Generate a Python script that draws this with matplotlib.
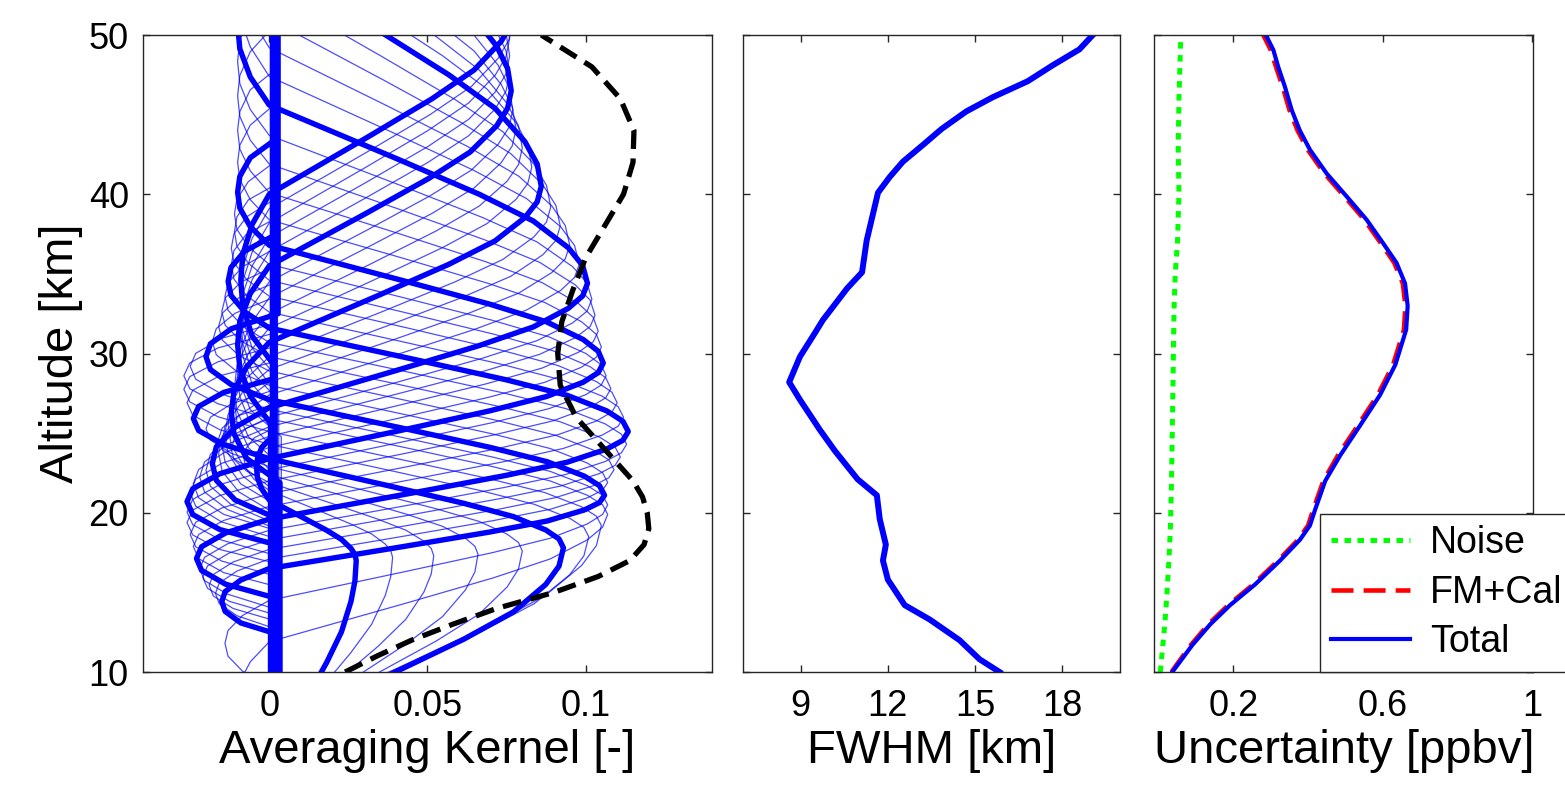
import numpy as np
import matplotlib
matplotlib.use("Agg")
import matplotlib.pyplot as plt

plt.rcParams['font.family'] = ['Liberation Sans', 'DejaVu Sans']

# ---- averaging kernels: one row per nominal level 10..50 km ----
k_nominal = list(range(10, 51))
k_peak_alt = [17.0, 17.2, 17.3, 17.4, 17.6, 17.8, 18.5, 19.2, 19.9, 20.5,
              21.1, 21.9, 22.7, 23.5, 24.3, 25.1, 26.0, 26.9, 27.8, 28.6,
              29.4, 30.4, 31.4, 32.4, 33.4, 34.4, 35.6, 36.8, 38.0, 39.2,
              40.5, 41.7, 42.9, 44.1, 45.3, 46.5, 47.6, 48.7, 49.8, 50.9, 52.0]
k_peak_val = [0.0275, 0.039, 0.052, 0.066, 0.080, 0.093, 0.101, 0.105, 0.107, 0.107,
              0.106, 0.107, 0.109, 0.111, 0.113, 0.1135, 0.112, 0.110, 0.108, 0.1065,
              0.1056, 0.105, 0.104, 0.103, 0.102, 0.1006, 0.098, 0.095, 0.092, 0.089,
              0.086, 0.083, 0.080, 0.078, 0.077, 0.0765, 0.076, 0.076, 0.076, 0.077, 0.078]
# distance (km) from peak to lower / upper zero crossing
k_low_w = [12.8, 12.0, 11.4, 11.2, 11.3, 11.5, 12.0, 12.6, 8.0, 6.0,
           4.6, 4.8, 5.0, 5.2, 5.4, 5.5, 5.6, 5.7, 5.8, 5.9,
           6.0, 6.3, 6.6, 7.0, 7.4, 7.8, 8.2, 8.6, 9.0, 9.4,
           9.8, 10.1, 10.4, 10.6, 10.8, 11.0, 11.2, 11.4, 11.6, 11.8, 12.0]
k_up_w = [3.8, 4.2, 4.6, 5.0, 5.3, 5.6, 5.8, 5.9, 6.0, 6.0,
          6.0, 6.1, 6.2, 6.3, 6.4, 6.5, 6.6, 6.7, 6.8, 7.0,
          7.4, 8.0, 8.7, 9.5, 10.3, 11.2, 11.8, 12.4, 13.0, 13.5,
          14.0, 14.0, 14.0, 14.0, 14.0, 14.0, 14.0, 14.0, 14.0, 14.0, 14.0]
k_lobe_lo = [-0.004, -0.004, -0.004, -0.004, -0.004, -0.004, -0.004, -0.004, -0.010, -0.014,
             -0.015, -0.017, -0.019, -0.021, -0.022, -0.023, -0.024, -0.025, -0.026, -0.026,
             -0.026, -0.025, -0.024, -0.022, -0.020, -0.018, -0.016, -0.015, -0.014, -0.013,
             -0.012, -0.011, -0.011, -0.010, -0.010, -0.010, -0.009, -0.009, -0.009, -0.009, -0.009]
k_lobe_up = [-0.004, -0.008, -0.012, -0.016, -0.020, -0.024, -0.026, -0.027, -0.027, -0.025,
             -0.020, -0.018, -0.016, -0.015, -0.014, -0.013, -0.012, -0.012, -0.011, -0.011,
             -0.010, -0.010, -0.010, -0.010, -0.010, -0.010, -0.010, -0.010, -0.010, -0.010,
             -0.010, -0.010, -0.010, -0.010, -0.010, -0.010, -0.010, -0.010, -0.010, -0.010, -0.010]
# small residual value far from the peak
k_tail = [0.0010, 0.0022, 0.0014, 0.0026, 0.0008, 0.0018, 0.0024, 0.0012, 0.0020, 0.0016,
          0.0028, 0.0010, 0.0022, 0.0015, 0.0005, 0.0019, 0.0025, 0.0012, 0.0030, 0.0008,
          0.0021, 0.0014, 0.0026, 0.0009, 0.0018, 0.0031, 0.0012, 0.0024, 0.0006, 0.0020,
          0.0034, 0.0010, 0.0027, 0.0016, 0.0038, 0.0004, 0.0022, 0.0030, 0.0012, 0.0026, 0.0018]
thick_levels = [10, 15, 20, 25, 30, 35, 40, 45, 50]

# shape templates for one kernel (fraction of half-width, fraction of peak / lobe)
arm_f = [0.0, 0.1, 0.2, 0.35, 0.5, 0.7, 0.85, 1.0]
arm_v = [1.0, 0.985, 0.94, 0.83, 0.66, 0.4, 0.2, 0.0]
lobe_f = [0.35, 0.7, 1.0, 1.3, 1.65, 2.0]
lobe_v = [0.6, 0.93, 1.0, 0.93, 0.6, 0.0]

# ---- total response (dashed) ----
resp_alt = [10, 11, 12, 13, 14, 15, 16, 17, 18, 19, 20, 21, 22, 24, 26, 28, 30,
            32, 34, 36, 38, 40, 42, 44, 46, 48, 50]
resp_val = [0.024, 0.034, 0.045, 0.058, 0.072, 0.090, 0.104, 0.114, 0.1185, 0.120, 0.1195,
            0.118, 0.115, 0.106, 0.097, 0.092, 0.0912, 0.0925, 0.096, 0.100, 0.106,
            0.112, 0.115, 0.1153, 0.111, 0.102, 0.086]

# ---- FWHM ----
fwhm_alt = [10.0, 10.8, 12.0, 13.3, 14.2, 15.8, 17.0, 18.0, 19.6, 21.1, 22.1, 23.9,
            25.2, 27.1, 28.2, 29.8, 31.3, 32.1, 34.1, 35.1, 37.1, 40.1, 41.1, 42.05,
            43.1, 44.1, 45.2, 46.1, 47.1, 48.1, 49.1, 50.0]
fwhm_val = [15.85, 15.16, 14.47, 13.44, 12.58, 12.0, 11.83, 11.93, 11.72, 11.62, 10.96, 10.17,
            9.66, 8.97, 8.6, 8.97, 9.49, 9.76, 10.6, 11.11, 11.27, 11.66, 12.07, 12.52,
            13.21, 13.85, 14.7, 15.62, 16.82, 17.68, 18.6, 19.06]

# ---- uncertainty [ppbv] ----
unc_alt = [10.0, 10.5, 11.7, 13.0, 14.2, 15.5, 17.0, 18.3, 19.2, 20.2, 22.0, 23.6,
           25.5, 27.4, 29.3, 31.5, 33.0, 34.4, 35.7, 36.9, 38.4, 39.85, 41.3, 42.8,
           44.0, 45.3, 46.75, 48.0, 49.06, 50.0]
total_val = [0.036, 0.052, 0.090, 0.138, 0.191, 0.258, 0.325, 0.378, 0.405, 0.419, 0.446, 0.486,
             0.540, 0.593, 0.634, 0.663, 0.667, 0.660, 0.637, 0.602, 0.557, 0.504, 0.450, 0.405,
             0.378, 0.356, 0.338, 0.320, 0.307, 0.287]
fmcal_val = [0.034, 0.049, 0.086, 0.133, 0.186, 0.253, 0.320, 0.373, 0.400, 0.414, 0.441, 0.480,
             0.534, 0.587, 0.628, 0.657, 0.661, 0.654, 0.631, 0.596, 0.551, 0.498, 0.444, 0.399,
             0.372, 0.350, 0.332, 0.314, 0.300, 0.280]
noise_alt = [10, 11, 12, 13, 14, 15, 17, 19, 20, 22, 25, 28, 30, 33, 35, 37, 40, 43, 46, 50]
noise_val = [0.004, 0.008, 0.012, 0.016, 0.019, 0.022, 0.027, 0.031, 0.032, 0.034, 0.036,
             0.038, 0.039, 0.041, 0.044, 0.050, 0.054, 0.052, 0.054, 0.059]

fig = plt.figure(figsize=(15.65, 7.85), dpi=100)
ax1 = fig.add_axes([0.0912, 0.1439, 0.3638, 0.8115])
ax2 = fig.add_axes([0.4746, 0.1439, 0.2411, 0.8115])
ax3 = fig.add_axes([0.7376, 0.1439, 0.2422, 0.8115])

blue = '#0000ff'


def kernel_line(i):
    a, p = k_peak_alt[i], k_peak_val[i]
    L, U = k_low_w[i], k_up_w[i]
    dl, du = max(2.0, 0.45 * L), max(2.0, 0.45 * U)
    lo = [(a - L - dl * f, k_lobe_lo[i] * v) for f, v in zip(lobe_f, lobe_v)]
    lo = lo[::-1] + [(a - L * f, p * v) for f, v in zip(arm_f[::-1], arm_v[::-1])]
    up = [(a + U * f, p * v) for f, v in zip(arm_f[1:], arm_v[1:])]
    up += [(a + U + du * f, k_lobe_up[i] * v) for f, v in zip(lobe_f, lobe_v)]
    pts = [(0, k_tail[i])] + lo + up + [(80, k_tail[i])]
    pts[1] = (pts[1][0], k_tail[i])
    pts[-2] = (pts[-2][0], k_tail[i])
    return [q[1] for q in pts], [q[0] for q in pts]


for i, z in enumerate(k_nominal):
    if z not in thick_levels:
        v, h = kernel_line(i)
        ax1.plot(v, h, color=blue, lw=0.9, alpha=0.7)
for i, z in enumerate(k_nominal):
    if z in thick_levels:
        v, h = kernel_line(i)
        ax1.plot(v, h, color=blue, lw=3.9, solid_joinstyle='round')
ax1.plot(resp_val, resp_alt, color='k', lw=3.8, dashes=(3.6, 1.8))

ax2.plot(fwhm_val, fwhm_alt, color=blue, lw=4.3)

ax3.plot(noise_val, noise_alt, color='#00ff00', lw=3.6, dashes=(1.3, 1.3), label='Noise')
ax3.plot(fmcal_val, unc_alt, color='#ff0000', lw=3.3, dashes=(4.8, 2.2), label='FM+Cal')
ax3.plot(total_val, unc_alt, color=blue, lw=3.0, label='Total')

for ax in (ax1, ax2, ax3):
    ax.set_ylim(10, 50)
    ax.set_yticks([10, 20, 30, 40, 50])
    ax.tick_params(direction='in', length=5, width=1, top=True, right=True,
                   labelsize=26, colors='#262626', labelcolor='k')
    ax.tick_params(axis='x', pad=12)
    ax.tick_params(axis='y', pad=10)
    for s in ax.spines.values():
        s.set_linewidth(1.0)
        s.set_color('#262626')

ax1.set_xlim(-0.04, 0.14)
ax1.set_xticks([0, 0.05, 0.1])
ax1.set_xticklabels(['0', '0.05', '0.1'])
ax1.set_ylabel('Altitude [km]', fontsize=34, labelpad=4)
ax1.set_xlabel('Averaging Kernel [-]', fontsize=34, labelpad=4)

ax2.set_xlim(7, 20)
ax2.set_xticks([9, 12, 15, 18])
ax2.set_yticklabels([])
ax2.set_xlabel('FWHM [km]', fontsize=34, labelpad=4)

ax3.set_xlim(-0.012, 1.004)
ax3.set_xticks([0.2, 0.6, 1.0])
ax3.set_xticklabels(['0.2', '0.6', '1'])
ax3.set_yticklabels([])
ax3.set_xlabel('Uncertainty [ppbv]', fontsize=34, labelpad=4)

leg = ax3.legend(loc='upper left', bbox_to_anchor=(0.8435, 0.3452),
                 bbox_transform=fig.transFigure, fontsize=27, frameon=True,
                 fancybox=False, framealpha=1, edgecolor='#262626',
                 handlelength=2.1, handletextpad=0.53, labelspacing=0.36,
                 borderpad=0.3, borderaxespad=0)
leg.get_frame().set_linewidth(1.0)

fig.savefig('out.png', dpi=100)
